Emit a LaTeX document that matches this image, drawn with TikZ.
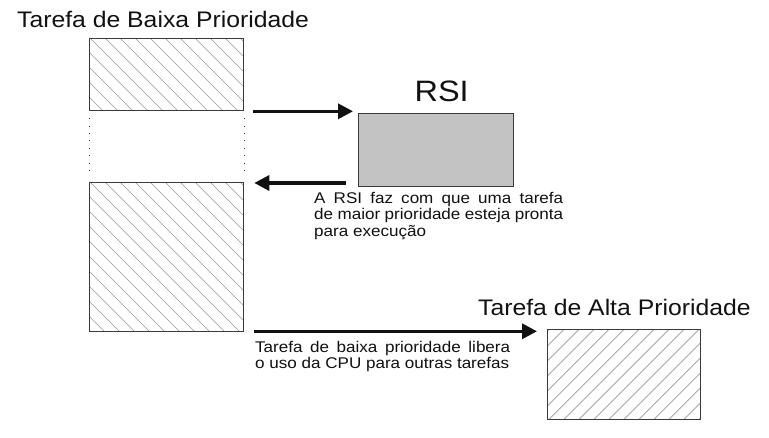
\documentclass[tikz,border=0pt]{standalone}
\usepackage{fontspec}
\setmainfont{Liberation Sans}[FakeStretch=1.1]
\usetikzlibrary{arrows.meta}
\definecolor{boxline}{HTML}{3A3A3A}
\definecolor{hatchcol}{HTML}{9A9A9A}
\definecolor{rsifill}{HTML}{C3C3C3}
\definecolor{ink}{HTML}{111111}
\begin{document}
\begin{tikzpicture}[x=1pt,y=-1pt,
  box/.style={draw=boxline, line width=1.3pt, minimum width=154pt, anchor=north west, inner sep=0pt},
  hatchline/.style={draw=hatchcol, line width=0.65pt},
  hatchNW/.style={path picture={\foreach \i in {-224,-209,...,224} \draw[hatchline] ([xshift=\i pt]path picture bounding box.north west) -- ++(230pt,-230pt);}},
  hatchNE/.style={path picture={\foreach \i in {-224,-209,...,224} \draw[hatchline] ([xshift=\i pt]path picture bounding box.south west) -- ++(230pt,230pt);}},
  arr/.style={draw=ink, line width=3.2pt, -{Triangle[length=15pt,width=15pt]}},
  dots/.style={draw=boxline, line width=0.9pt, dash pattern=on 0.9pt off 6.5pt, shorten <=7pt, shorten >=5pt},
  title/.style={text=ink, inner sep=0pt, font=\fontsize{22.5}{27}\selectfont},
  small/.style={text=ink, inner sep=0pt, font=\fontsize{15.5}{16.6}\selectfont}
]
\useasboundingbox[fill=white] (0,0) rectangle (769,438);

% boxes
\node[box, hatchNW, minimum height=72pt] (b1) at (89,38) {};
\node[box, hatchNW, minimum height=149pt] (b2) at (89,182) {};
\node[box, fill=rsifill, minimum width=155pt, minimum height=73pt] (rsi) at (358,113) {};
\node[box, hatchNE, minimum width=153pt, minimum height=90pt] (hi) at (547,329) {};

% dotted continuation
\draw[dots] (b1.south west) -- (b2.north west);
\draw[dots] (b1.south east) -- (b2.north east);

% labels
\node[title, anchor=base west] (lbl1) at (17,28) {Tarefa de Baixa Prioridade};
\node[title, anchor=base west] (lbl2) at (478,315.5) {Tarefa de Alta Prioridade};
\node[text=ink, inner sep=0pt, anchor=base, font=\fontsize{29.5}{34}\selectfont] (lblrsi) at ([xshift=5.5pt,yshift=11pt]rsi.north) {RSI};

\node[small, anchor=base west] (t1) at (314,203.3) {\parbox[t]{249pt}{\makebox[249pt][s]{A RSI faz com que uma tarefa}\\\makebox[249pt][s]{de maior prioridade esteja pronta}\\para execução}};
\node[small, anchor=base west] (t2) at (255,352.3) {\parbox[t]{255pt}{\makebox[255pt][s]{Tarefa de baixa prioridade libera}\\o uso da CPU para outras tarefas}};

% arrows
\draw[arr] ([xshift=9pt]b1.south east) -- ([xshift=-5pt]b1.south east -| rsi.west);
\draw[arr] ([xshift=-12pt,yshift=-1pt]rsi.south west |- b2.north east) -- ([xshift=10pt,yshift=-1pt]b2.north east);
\draw[arr] ([xshift=10pt,yshift=1pt]b2.south east) -- ([xshift=-10pt,yshift=1pt]b2.south east -| hi.west);
\end{tikzpicture}
\end{document}
